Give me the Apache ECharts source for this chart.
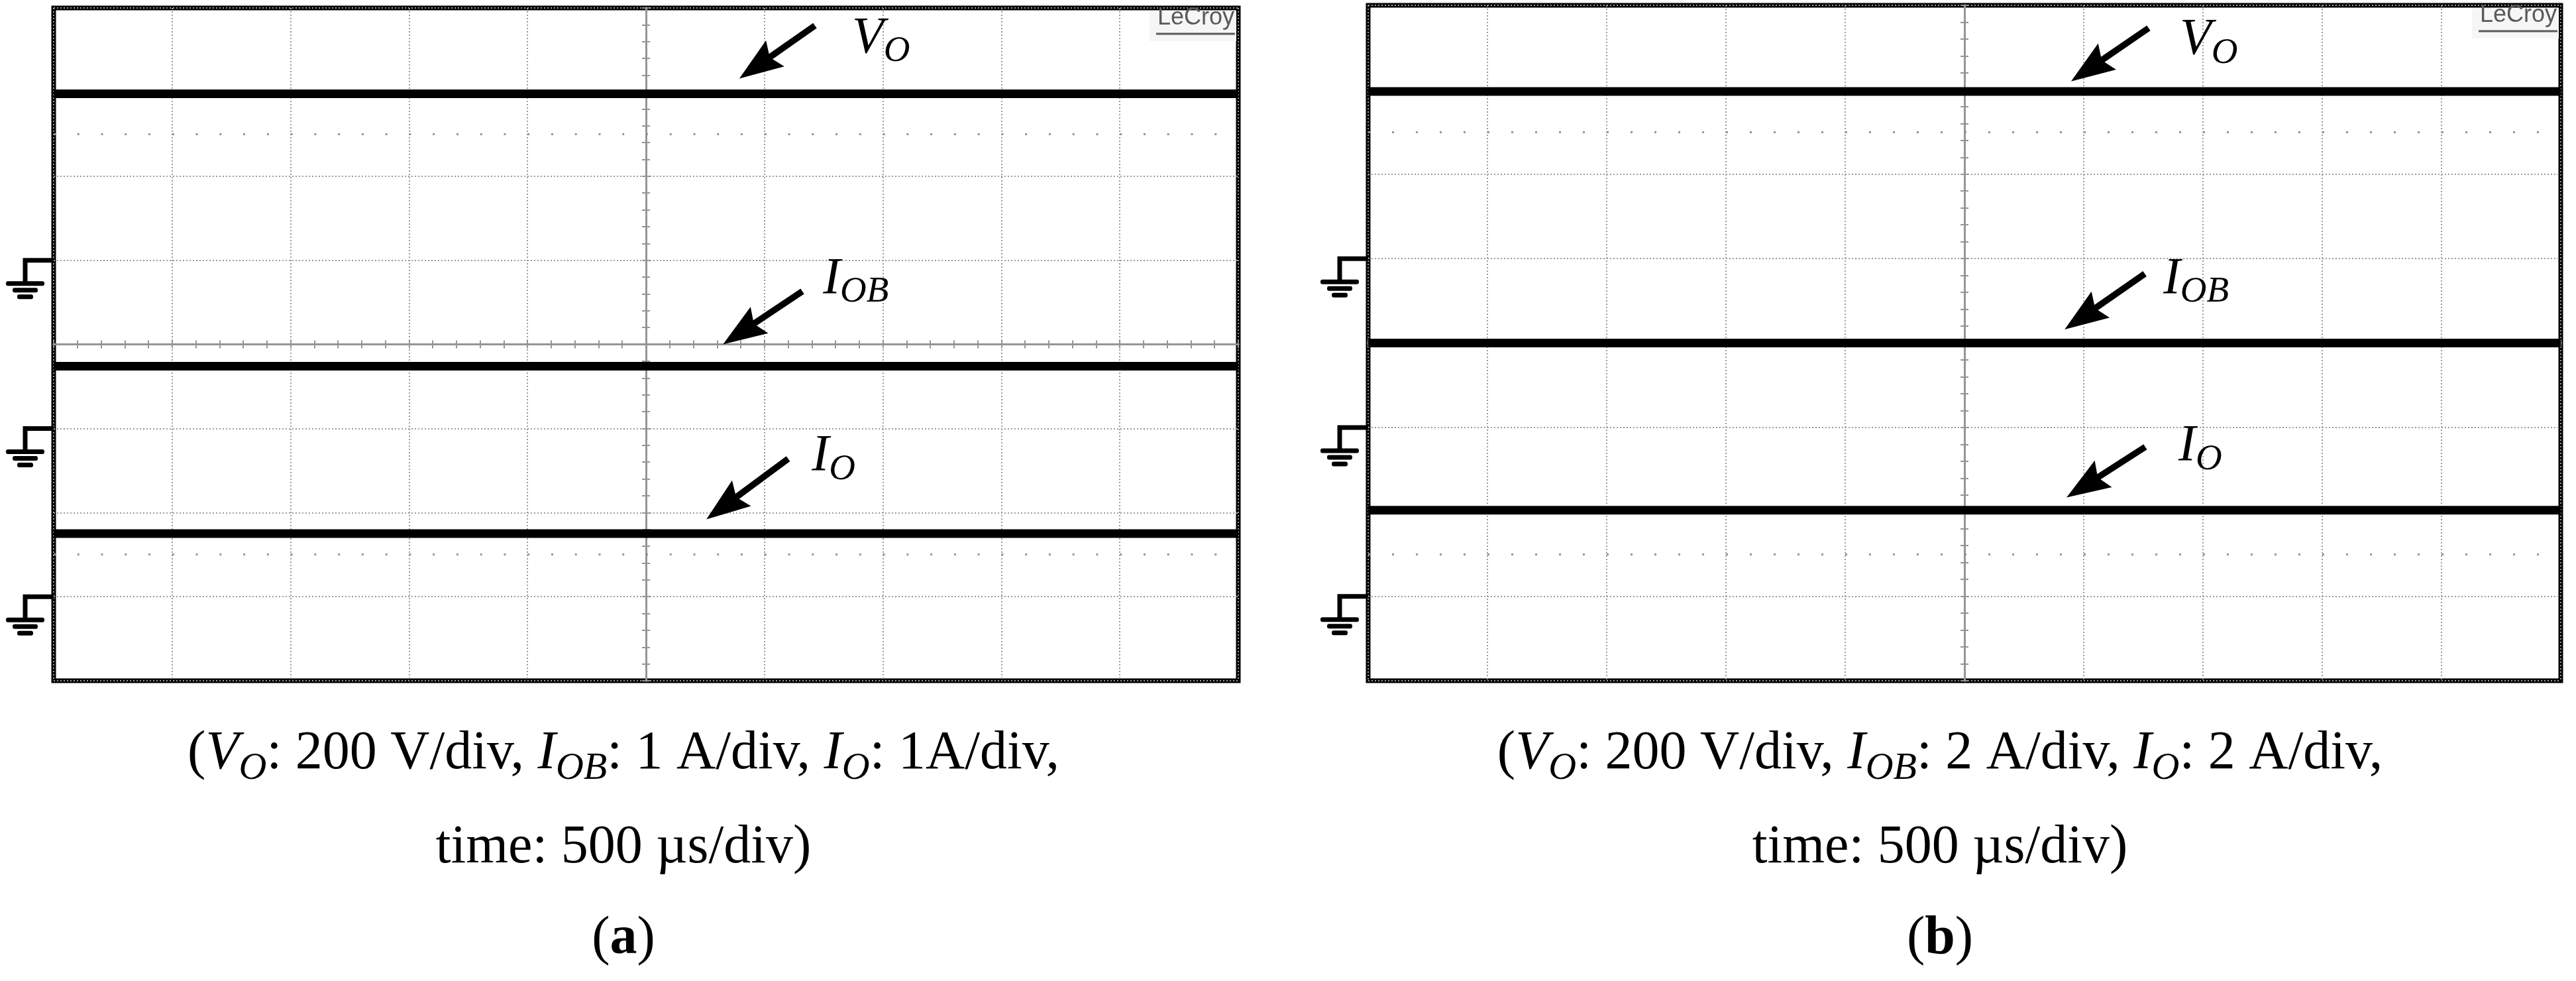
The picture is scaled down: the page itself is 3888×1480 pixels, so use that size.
<!DOCTYPE html>
<html>
<head>
<meta charset="utf-8">
<title>Scope traces</title>
<script src="https://cdn.jsdelivr.net/npm/echarts@6/dist/echarts.min.js"></script>
<style>
  html, body { margin: 0; padding: 0; background: #fff; }
  #main { width: 3888px; height: 1480px; }
</style>
</head>
<body>
<div id="main"></div>
<script>
// time base: 10 div x 500 us, trigger in the middle
const timeSpan = [-2500, 2500]
const timeStep = 500
// vertical: 8 div, values are in divisions from screen centre
const divSpan = [-4, 4]
const dotRows = [2.5, -2.5]

const traceNames = ['V_O', 'I_OB', 'I_O']

// (a)
const scaleA = [200, 1, 1]        // V/div, A/div, A/div
const groundA = [1, -1, -3]       // ground marker, div
const levelA = [396, 0.74, 0.75]  // V, A, A
// (b)
const scaleB = [200, 2, 2]
const groundB = [1, -1, -3]
const levelB = [396, 2.0, 2.04]

// annotation anchors [us, div]
const arrowsA = [[[713, 3.79], [394, 3.16]], [[660, 0.63], [325, 0.0]], [[600, -1.36], [255, -2.08]]]
const arrowsB = [[[772, 3.73], [447, 3.10]], [[756, 0.82], [420, 0.16]], [[758, -1.23], [428, -1.83]]]
const labelsA = [[870, 3.43], [747, 0.57], [700, -1.54]]
const labelsB = [[903, 3.38], [833, 0.55], [897, -1.43]]

const captionsA = [
  '{n|(}{m|V}{s|O}{n|: 200 V/div, }{m|I}{s|OB}{n|: 1 A/div, }{m|I}{s|O}{n|: 1A/div,}',
  '{n|time: 500 µs/div)}',
  '{n|(}{b|a}{n|)}'
]
const captionsB = [
  '{n|(}{m|V}{s|O}{n|: 200 V/div, }{m|I}{s|OB}{n|: 2 A/div, }{m|I}{s|O}{n|: 2 A/div,}',
  '{n|time: 500 µs/div)}',
  '{n|(}{b|b}{n|)}'
]

const panels = [
  { id: 'a', scale: scaleA, ground: groundA, levels: levelA, arrows: arrowsA, labels: labelsA, captions: captionsA,
    rect: { left: 81, top: 12, width: 1788, height: 1015 }, capX: 941 },
  { id: 'b', scale: scaleB, ground: groundB, levels: levelB, arrows: arrowsB, labels: labelsB, captions: captionsB,
    rect: { left: 2065, top: 8, width: 1800, height: 1019 }, capX: 2928 }
]

const serif = "'Liberation Serif', 'Times New Roman', serif"
const gridGray = '#9c9c9c'
const axisGray = '#959595'

let chart = echarts.init(document.getElementById('main'))

function axisBase(gi) {
  return {
    type: 'value',
    gridIndex: gi,
    axisLabel: { show: false },
    axisLine: { onZero: true, lineStyle: { color: axisGray, width: 3 } },
    axisTick: { show: true, length: 6, lineStyle: { color: axisGray, width: 2 } },
    minorTick: { show: true, splitNumber: 5, length: 6, lineStyle: { color: axisGray, width: 2 } },
    minorSplitLine: { show: false }
  }
}

let grids = []
let xAxes = []
let yAxes = []
let series = []

panels.forEach((p, gi) => {
  grids.push({
    left: p.rect.left, top: p.rect.top, width: p.rect.width, height: p.rect.height,
    show: true, borderColor: '#000', borderWidth: 7, backgroundColor: 'transparent',
    outerBoundsMode: 'none'
  })
  const xb = Object.assign(axisBase(gi), { min: timeSpan[0], max: timeSpan[1], interval: timeStep })
  xAxes.push(Object.assign({}, xb, {
    position: 'bottom',
    splitLine: { show: true, lineStyle: { color: gridGray, width: 2, type: [2, 3] } }
  }))
  xAxes.push(Object.assign({}, xb, { position: 'top', splitLine: { show: false } }))
  const yb = Object.assign(axisBase(gi), { min: divSpan[0], max: divSpan[1], interval: 1 })
  yAxes.push(Object.assign({}, yb, {
    position: 'left',
    splitLine: { show: true, lineStyle: { color: gridGray, width: 2, type: [2, 3] } }
  }))
  yAxes.push(Object.assign({}, yb, { position: 'right', splitLine: { show: false } }))

  const subDiv = p.rect.width / 10 / 5
  p.levels.forEach((v, k) => {
    const y = p.ground[k] + v / p.scale[k]
    let s = {
      name: traceNames[k] + ' (' + p.id + ')',
      type: 'line',
      xAxisIndex: gi * 2,
      yAxisIndex: gi * 2,
      data: [[timeSpan[0], y], [timeSpan[1], y]],
      symbol: 'none',
      silent: true,
      lineStyle: { color: '#000', width: 13 },
      z: 5
    }
    if (k === 0) {
      // half-division dot rows of the scope graticule
      s.markLine = {
        silent: true,
        symbol: 'none',
        label: { show: false },
        lineStyle: { color: axisGray, width: 3, type: [3, subDiv - 3] },
        data: dotRows.map(r => ({ yAxis: r }))
      }
    }
    series.push(s)
  })
})

chart.setOption({
  animation: false,
  backgroundColor: '#fff',
  grid: grids,
  xAxis: xAxes,
  yAxis: yAxes,
  series: series
})

function arrowPoints(t, h) {
  const dx = h[0] - t[0]
  const dy = h[1] - t[1]
  const len = Math.hypot(dx, dy)
  const ux = dx / len, uy = dy / len
  const nx = -uy, ny = ux
  const headLen = 66, headHalf = 24, shaftHalf = 4.8, notch = 8
  const bx = h[0] - ux * headLen, by = h[1] - uy * headLen
  const sx = h[0] - ux * (headLen - notch), sy = h[1] - uy * (headLen - notch)
  return [
    [t[0] + nx * shaftHalf, t[1] + ny * shaftHalf],
    [sx + nx * shaftHalf, sy + ny * shaftHalf],
    [bx + nx * headHalf, by + ny * headHalf],
    [h[0], h[1]],
    [bx - nx * headHalf, by - ny * headHalf],
    [sx - nx * shaftHalf, sy - ny * shaftHalf],
    [t[0] - nx * shaftHalf, t[1] - ny * shaftHalf]
  ]
}

const labelRich = {
  m: { fontFamily: serif, fontSize: 78, fontStyle: 'italic', fill: '#000', verticalAlign: 'bottom', padding: [0, 0, 8, 0] },
  s: { fontFamily: serif, fontSize: 55, fontStyle: 'italic', fill: '#000', verticalAlign: 'bottom' }
}
const capRich = {
  n: { fontFamily: serif, fontSize: 82, fill: '#000', verticalAlign: 'bottom', padding: [0, 0, 11, 0] },
  m: { fontFamily: serif, fontSize: 82, fontStyle: 'italic', fill: '#000', verticalAlign: 'bottom', padding: [0, 0, 11, 0] },
  s: { fontFamily: serif, fontSize: 58, fontStyle: 'italic', fill: '#000', verticalAlign: 'bottom' },
  b: { fontFamily: serif, fontSize: 82, fontWeight: 'bold', fill: '#000', verticalAlign: 'bottom', padding: [0, 0, 11, 0] }
}
const capBaselines = [1165, 1307, 1445]

let graphics = []
panels.forEach((p, gi) => {
  const px = pt => chart.convertToPixel({ gridIndex: gi }, pt)
  const left = p.rect.left
  const right = p.rect.left + p.rect.width
  const top = p.rect.top

  // ground markers
  p.ground.forEach(lv => {
    const y = px([0, lv])[1]
    const sx = left - 43
    graphics.push({
      type: 'polyline', z: 20,
      shape: { points: [[left, y], [sx, y], [sx, y + 33]] },
      style: { stroke: '#000', lineWidth: 7, fill: null, lineJoin: 'miter' }
    })
    ;[[58, 35], [38, 45], [24, 55]].forEach(b => {
      graphics.push({
        type: 'rect', z: 20,
        shape: { x: sx - b[0] / 2, y: y + b[1] - 3.5, width: b[0], height: 7, r: 3 },
        style: { fill: '#000' }
      })
    })
  })

  // arrows
  p.arrows.forEach(a => {
    graphics.push({
      type: 'polygon', z: 20,
      shape: { points: arrowPoints(px(a[0]), px(a[1])) },
      style: { fill: '#000' }
    })
  })

  // trace labels
  const labelText = ['{m|V}{s|O}', '{m|I}{s|OB}', '{m|I}{s|O}']
  p.labels.forEach((l, k) => {
    const q = px(l)
    graphics.push({
      type: 'text', z: 20,
      style: {
        x: q[0], y: q[1] + 21, text: labelText[k], rich: labelRich,
        align: 'left', verticalAlign: 'bottom', textAlign: 'left', textVerticalAlign: 'bottom'
      }
    })
  })

  // LeCroy logo
  graphics.push({ type: 'rect', z: 15, shape: { x: right - 134, y: top + 4, width: 131, height: 46 }, style: { fill: '#f6f6f6' } })
  graphics.push({
    type: 'text', z: 16,
    style: {
      x: right - 64, y: top + 33, text: 'LeCroy', fill: '#5a5a5a',
      fontFamily: "'Liberation Sans', Arial, sans-serif", fontSize: 36,
      align: 'center', verticalAlign: 'bottom', textAlign: 'center', textVerticalAlign: 'bottom'
    }
  })
  graphics.push({ type: 'line', z: 16, shape: { x1: right - 124, y1: top + 39, x2: right - 5, y2: top + 39 }, style: { stroke: '#5a5a5a', lineWidth: 3 } })

  // captions
  p.captions.forEach((c, i) => {
    graphics.push({
      type: 'text', z: 20,
      style: {
        x: p.capX, y: capBaselines[i] + 24, text: c, rich: capRich,
        align: 'center', verticalAlign: 'bottom', textAlign: 'center', textVerticalAlign: 'bottom'
      }
    })
  })
})

chart.setOption({ graphic: graphics })

window.onresize = function () {
  chart.resize()
}
</script>
</body>
</html>
